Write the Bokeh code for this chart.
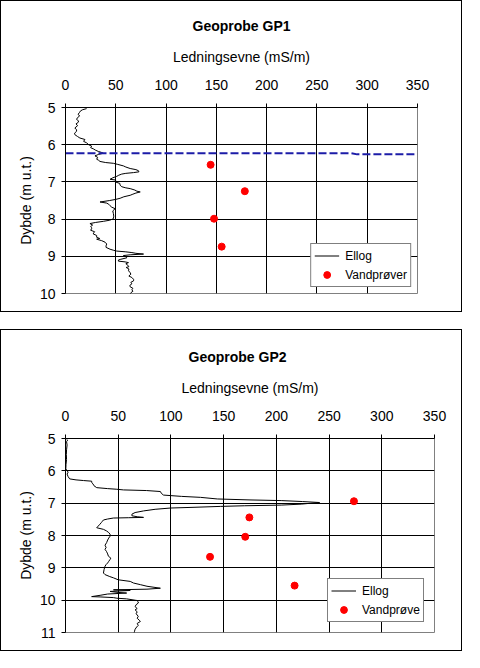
from bokeh.plotting import figure
from bokeh.models import Range1d, FixedTicker, Legend, LegendItem
from bokeh.layouts import column
from bokeh.embed import file_html
from bokeh.resources import INLINE

# ---------------- data ----------------
x_ticks = [0, 50, 100, 150, 200, 250, 300, 350]

gp1_depth = [5.03, 5.06, 5.09, 5.13, 5.18, 5.23, 5.27, 5.32, 5.36, 5.40, 5.44, 5.49, 5.55, 5.60, 5.64,
             5.69, 5.73, 5.78, 5.82, 5.86, 5.91, 5.95, 6.00, 6.04, 6.08, 6.11, 6.15, 6.18, 6.21, 6.23,
             6.26, 6.30, 6.34, 6.39, 6.42, 6.45, 6.48, 6.50, 6.53, 6.57, 6.60, 6.64, 6.67, 6.70, 6.73,
             6.75, 6.77, 6.79, 6.82, 6.85, 6.89, 6.93, 6.95, 7.00, 7.04, 7.09, 7.13, 7.16, 7.18, 7.22,
             7.25, 7.27, 7.30, 7.33, 7.36, 7.40, 7.44, 7.47, 7.50, 7.54, 7.57, 7.60, 7.64, 7.68, 7.72,
             7.78, 7.85, 7.92, 7.99, 8.03, 8.06, 8.09, 8.12, 8.16, 8.20, 8.23, 8.26, 8.30, 8.34, 8.37,
             8.40, 8.44, 8.49, 8.52, 8.54, 8.58, 8.62, 8.67, 8.72, 8.76, 8.81, 8.84, 8.86, 8.88, 8.90,
             8.92, 8.94, 8.96, 8.98, 9.01, 9.04, 9.08, 9.10, 9.13, 9.15, 9.17, 9.20, 9.24, 9.28, 9.30,
             9.34, 9.39, 9.44, 9.48, 9.53, 9.57, 9.62, 9.66, 9.70, 9.74, 9.78, 9.82, 9.86, 9.90, 9.94,
             9.98, 10.02, 10.06, 10.09]
gp1_cond = [21, 17, 15, 14, 12.6, 14, 12, 11, 13, 12.6, 10.5, 12, 9.3, 11, 11,
            9, 9.3, 12, 14.3, 19.3, 18, 21, 23, 26, 25, 27.6, 30, 32.6, 36, 37.6,
            33, 29.3, 32, 31, 33, 34.3, 40, 47.6, 52, 57.6, 60, 64.3, 70, 72.6, 73,
            67.6, 60, 55.9, 53, 51, 47, 44.3, 50, 49.3, 54, 54.3, 56, 60, 64.3, 69,
            71, 74.3, 70, 67, 64.3, 58, 54.3, 50, 44, 34.3, 41, 43, 44.3, 46, 49.3,
            47, 47.6, 48, 47.6, 44, 37.6, 30, 24.3, 27, 25, 26, 26, 25, 29, 28,
            27.6, 31, 31, 34, 31, 36, 39.3, 41, 40.3, 40.3, 44.3, 48, 51, 60, 66,
            70, 77.6, 64.3, 57.6, 60, 61, 55, 52.6, 52.6, 59.3, 62.6, 60, 62, 63, 60.3,
            63, 62.7, 64.3, 65, 63, 66, 67.7, 67.7, 65, 66, 64, 64.3, 67, 66, 67,
            65, 64.3, 66, 66]
gp1_sample_depth = [6.54, 7.25, 7.99, 8.74]
gp1_sample_cond = [144.3, 178.3, 147.7, 155.3]
gp1_water_x = [0, 284, 290, 350]
gp1_water_y = [6.23, 6.23, 6.26, 6.26]

gp2_depth = [5.02, 5.05, 5.10, 5.20, 5.35, 5.50, 5.65, 5.80, 5.94, 6.04, 6.10, 6.18, 6.25, 6.28, 6.30,
             6.32, 6.37, 6.40, 6.46, 6.52, 6.55, 6.57, 6.59, 6.61, 6.64, 6.70, 6.75, 6.79, 6.82, 6.87,
             6.90, 6.92, 6.95, 6.98, 7.01, 7.03, 7.06, 7.08, 7.10, 7.13, 7.15, 7.19, 7.24, 7.29, 7.34,
             7.39, 7.42, 7.44, 7.45, 7.46, 7.49, 7.52, 7.56, 7.60, 7.65, 7.71, 7.76, 7.81, 7.86, 7.91,
             7.96, 8.02, 8.08, 8.14, 8.22, 8.30, 8.37, 8.43, 8.50, 8.57, 8.64, 8.70, 8.74, 8.80, 8.85,
             8.90, 8.95, 9.05, 9.16, 9.21, 9.27, 9.31, 9.37, 9.42, 9.47, 9.52, 9.57, 9.63, 9.66, 9.68,
             9.70, 9.73, 9.76, 9.78, 9.81, 9.85, 9.89, 9.90, 9.92, 9.94, 9.96, 10.01, 10.05, 10.09, 10.14,
             10.20, 10.26, 10.30, 10.36, 10.42, 10.50, 10.56, 10.62, 10.66, 10.72, 10.78, 10.83, 10.90, 10.96, 11.02,
             11.08]
gp2_cond = [1, 2, 1, 1.5, 1, 0.8, 1, 0.5, 0.3, 2.5, 1.5, 2.5, 4, 10, 17,
            24.8, 25, 26, 27, 29.6, 40, 48.7, 55, 77, 90, 91, 93, 110, 128, 144,
            175, 204.6, 225, 241, 230, 223.6, 204.6, 170, 147, 120, 99.6, 85, 74, 66, 63,
            63, 68, 74, 60, 45.4, 40, 36, 35, 34, 32.7, 31, 29.6, 36, 39, 41,
            42.3, 42.3, 41, 40, 39, 37.5, 38.5, 37.5, 39, 40, 40.7, 43, 42.3, 41, 40,
            38.5, 37.5, 36.6, 36, 37.5, 42, 45.5, 50, 61.4, 64.5, 71, 77.3, 90, 77.3, 45.5,
            61.4, 42.3, 50, 58, 40, 32.8, 24.8, 32.8, 45.4, 48.7, 58, 67.7, 69, 69, 67,
            66, 68, 66, 68, 67, 69, 68, 70, 71, 68, 69, 67.5, 66, 65.5, 65,
            64.5]
gp2_sample_depth = [6.94, 7.44, 8.04, 8.66, 9.55]
gp2_sample_cond = [273.6, 174.4, 170.5, 137.1, 217.3]

FONT = "Liberation Sans"


def make_panel(title, depth, cond, s_depth, s_cond, y_max, sample_label,
               frame_w, frame_h, border_top, border_right, border_bottom,
               title_align, title_offset, legend_loc):
    y_ticks = list(range(5, y_max + 1))
    p = figure(frame_width=frame_w, frame_height=frame_h,
               output_backend="svg", toolbar_location=None,
               x_range=Range1d(0, 350), y_range=Range1d(y_max, 5),
               x_axis_location="above",
               min_border_left=64, min_border_right=border_right,
               min_border_bottom=border_bottom, min_border_top=border_top)
    p.styles = {"border": "1px solid #000000"}
    p.background_fill_color = "white"
    p.border_fill_color = "white"
    p.outline_line_color = "#808080"
    p.outline_line_width = 1

    p.title.text = title
    p.title.align = title_align
    p.title.text_font = FONT
    p.title.text_font_style = "bold"
    p.title.text_font_size = "14px"
    p.title.text_color = "#000000"
    p.title.standoff = 24
    p.title.offset = title_offset

    xa = p.xaxis[0]
    xa.ticker = FixedTicker(ticks=x_ticks)
    xa.axis_label = "Ledningsevne (mS/m)"
    ya = p.yaxis[0]
    ya.ticker = FixedTicker(ticks=y_ticks)
    ya.axis_label = "Dybde (m u.t.)"
    for ax in (xa, ya):
        ax.axis_label_text_font = FONT
        ax.axis_label_text_font_style = "normal"
        ax.axis_label_text_font_size = "14px"
        ax.axis_label_text_color = "#000000"
        ax.major_label_text_font = FONT
        ax.major_label_text_font_size = "14px"
        ax.major_label_text_color = "#000000"
        ax.axis_line_color = "#000000"
        ax.major_tick_line_color = "#000000"
        ax.major_tick_out = 4
        ax.major_tick_in = 0
        ax.minor_tick_line_color = None
    xa.axis_label_standoff = 12
    xa.major_label_standoff = 14
    ya.axis_label_standoff = 3
    ya.major_label_standoff = 6

    for g in (p.xgrid[0], p.ygrid[0]):
        g.grid_line_color = "#000000"
        g.grid_line_width = 1
    p.xgrid[0].ticker = FixedTicker(ticks=x_ticks)
    p.ygrid[0].ticker = FixedTicker(ticks=y_ticks)

    line = p.line(cond, depth, line_color="#000000", line_width=1)
    pts = p.scatter(s_cond, s_depth, size=7, marker="circle",
                    fill_color="#ff0000", line_color="#ff0000")

    legend = Legend(items=[LegendItem(label="Ellog", renderers=[line]),
                           LegendItem(label=sample_label, renderers=[pts])],
                    location=legend_loc)
    legend.label_text_font = FONT
    legend.label_text_font_size = "12px"
    legend.label_text_color = "#000000"
    legend.border_line_color = "#000000"
    legend.border_line_width = 1
    legend.background_fill_color = "white"
    legend.background_fill_alpha = 1
    legend.margin = 6
    legend.padding = 3
    legend.spacing = 2
    legend.glyph_width = 25
    legend.glyph_height = 17
    legend.label_standoff = 6
    legend.label_height = 17
    p.add_layout(legend)
    return p


p1 = make_panel("Geoprobe GP1", gp1_depth, gp1_cond, gp1_sample_depth, gp1_sample_cond,
                10, "Vandprøver", 350, 184, 106, 46, 20, "center", 0, "bottom_right")
p1.line(gp1_water_x, gp1_water_y, line_color="#1c1ca8", line_width=2, line_dash="8 3")

p2 = make_panel("Geoprobe GP2", gp2_depth, gp2_cond, gp2_sample_depth, gp2_sample_cond,
                11, "Vandprøve", 367, 192, 108, 29, 20, "left", 123, (262, 10))

layout = column(p1, p2, spacing=17)
open("out.html", "w").write(file_html(layout, INLINE))
